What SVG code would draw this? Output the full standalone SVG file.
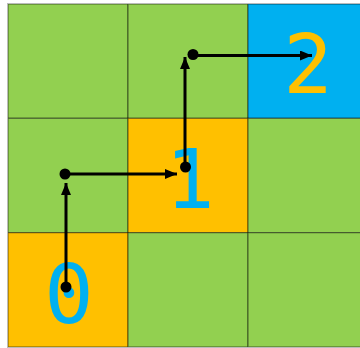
<svg xmlns="http://www.w3.org/2000/svg" width="360" height="348" viewBox="0 0 360 348">
<defs>
<style>
.g{fill:#92D050}.o{fill:#FFC000}.b{fill:#00B0F0}
.cell{stroke:#000;stroke-opacity:0.45;stroke-width:1.2}
.lbl{font-family:"DejaVu Sans Mono",monospace;font-size:82px;text-anchor:middle}
.con{stroke:#000;stroke-width:3;fill:none;marker-end:url(#ah)}
.dot{fill:#000}
</style>
<marker id="ah" viewBox="0 0 12 10" refX="12" refY="5" markerWidth="12" markerHeight="10" markerUnits="userSpaceOnUse" orient="auto">
<path d="M0,0 L12,5 L0,10 z" fill="#000"/>
</marker>
</defs>
<rect x="0" y="0" width="360" height="348" fill="#fff"/>
<g id="grid">
<rect class="cell g" x="8" y="4" width="120" height="114.3"/>
<rect class="cell g" x="128" y="4" width="120" height="114.3"/>
<rect class="cell b" x="248" y="4" width="120" height="114.3"/>
<rect class="cell g" x="8" y="118.3" width="120" height="114.4"/>
<rect class="cell o" x="128" y="118.3" width="120" height="114.4"/>
<rect class="cell g" x="248" y="118.3" width="120" height="114.4"/>
<rect class="cell o" x="8" y="232.7" width="120" height="114.3"/>
<rect class="cell g" x="128" y="232.7" width="120" height="114.3"/>
<rect class="cell g" x="248" y="232.7" width="120" height="114.3"/>
<rect x="7.5" y="3.5" width="360" height="344" fill="none" stroke="#bbb" stroke-width="1"/>
</g>
<g id="node0"><text class="lbl" x="69" y="323" fill="#00B0F0">0</text></g>
<g id="node1"><text class="lbl" x="190" y="207.5" fill="#00B0F0">1</text></g>
<g id="node2"><text class="lbl" x="308" y="93" fill="#FFC000">2</text></g>
<g id="connectors">
<line class="con" x1="66" y1="287" x2="66" y2="183"/>
<line class="con" x1="65" y1="174" x2="177" y2="174"/>
<line class="con" x1="185" y1="167" x2="185" y2="57"/>
<line class="con" x1="193" y1="55.5" x2="312" y2="55.5"/>
<circle class="dot" cx="66" cy="287" r="5.5"/>
<circle class="dot" cx="65" cy="174" r="5.5"/>
<circle class="dot" cx="185.5" cy="167" r="5.5"/>
<circle class="dot" cx="193" cy="54.5" r="5.5"/>
</g>
</svg>
